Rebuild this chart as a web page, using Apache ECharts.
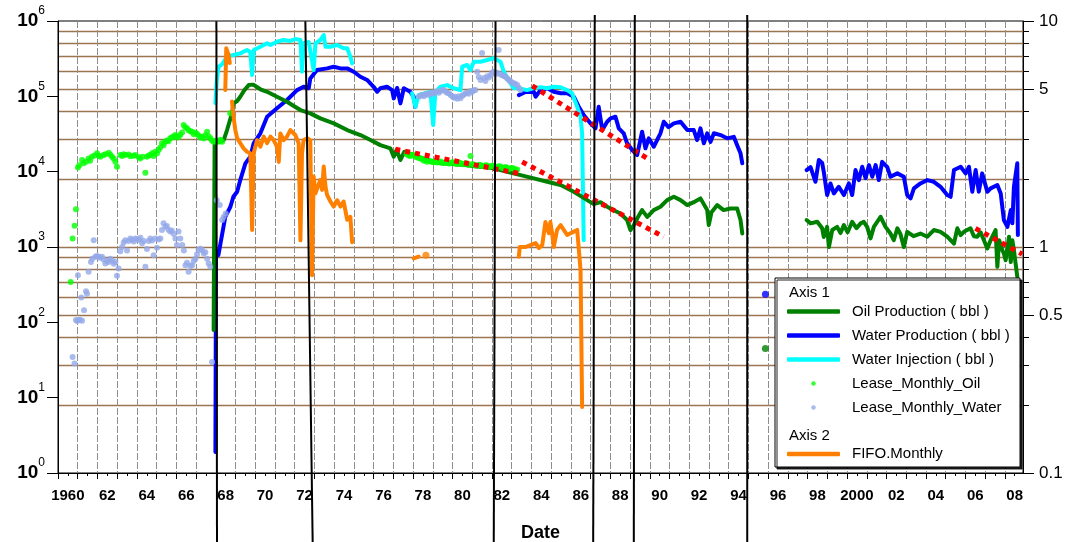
<!DOCTYPE html>
<html>
<head>
<meta charset="utf-8">
<title>Production history</title>
<script src="https://cdn.jsdelivr.net/npm/echarts@6/dist/echarts.min.js"></script>
<style>
  html, body { margin: 0; padding: 0; background: #fff; }
  #chart { width: 1074px; height: 542px; }
</style>
</head>
<body>
<div id="chart"></div>
<script>
// ---- data: [decimal year, value]; each series is a list of continuous segments ----
const oilProduction = [
  [[1967.89,79],[1967.94,24900],[1968.23,24900],[1968.40,26300],[1968.57,35700],[1968.69,45600],[1968.82,59400],[1968.90,80700],[1969.08,86700],[1969.24,98900],[1969.45,121000],[1969.67,141000],[1969.90,143000],[1970.26,124000],[1970.60,115000],[1971.10,98900],[1971.61,84800],[1971.95,74300],[1972.29,65800],[1972.79,59400],[1973.30,51000],[1973.98,43800],[1974.66,35700],[1975.33,30600],[1975.84,26300],[1976.34,22500],[1976.85,20400],[1977.02,15800],[1977.16,19400],[1977.36,14300],[1977.56,18400],[1978.03,16600],[1978.71,14300],[1979.39,12900],[1980.06,12600],[1980.74,12200],[1981.42,11600],[1982.09,11100],[1982.77,9960],[1983.45,9010],[1984.12,8150],[1984.80,7340],[1985.48,6640],[1986.15,5410],[1986.83,4190],[1987.16,3710],[1987.50,3940],[1987.84,3420],[1988.17,3080],[1988.51,2790],[1988.85,2280],[1989.02,1680],[1989.19,1950],[1989.36,2390],[1989.61,3090],[1989.87,2510],[1990.20,3090],[1990.54,3420],[1990.88,4190],[1991.22,4640],[1991.56,4190],[1991.90,3600],[1992.23,3940],[1992.57,4420],[1992.91,3090],[1992.99,1950],[1993.13,2900],[1993.42,3600],[1993.74,3090],[1994.09,3250],[1994.43,3250],[1994.60,2280],[1994.69,1510]],
  [[1995.86,45]],
  [[1997.95,2280],[1998.15,2060],[1998.49,2160],[1998.74,1770],[1998.82,1360],[1998.99,1850],[1999.08,1000],[1999.25,1680],[1999.50,1850],[1999.67,1530],[1999.84,1950],[2000.03,1570],[2000.26,2160],[2000.48,1780],[2000.69,2060],[2000.85,2160],[2001.02,1850],[2001.19,1300],[2001.36,1850],[2001.70,2520],[2001.95,1850],[2002.20,1510],[2002.37,1230],[2002.55,1770],[2002.71,1480],[2002.88,1000],[2003.05,1590],[2003.37,1390],[2003.72,1510],[2004.07,1370],[2004.40,1680],[2004.74,1590],[2005.08,1370],[2005.42,1110],[2005.59,1770],[2005.76,1440],[2005.92,1590],[2006.26,1770],[2006.43,1390],[2006.60,1370],[2006.77,1570],[2006.94,1230],[2007.11,957],[2007.28,1230],[2007.53,1680],[2007.62,545],[2007.71,1230],[2007.87,908],[2007.95,821],[2008.04,668],[2008.21,1370],[2008.30,630],[2008.38,1230],[2008.46,908],[2008.63,402]]
];

const waterProduction = [
  [[1967.98,1.9],[1968.01,908],[1968.13,780],[1968.48,2510],[1968.74,3420],[1968.89,4640],[1969.08,5410],[1969.24,7730],[1969.50,12900],[1969.75,15800],[1969.92,23800],[1970.26,32300],[1970.60,53600],[1971.10,69300],[1971.61,89300],[1972.12,121000],[1972.45,134000],[1972.71,128000],[1972.79,173000],[1973.13,223000],[1973.64,235000],[1973.98,247000],[1974.32,235000],[1974.66,235000],[1974.99,212000],[1975.33,182000],[1975.67,165000],[1976.00,134000],[1976.18,115000],[1976.34,128000],[1976.68,134000],[1976.94,121000],[1977.02,94000],[1977.19,129000],[1977.36,80700],[1977.53,128000],[1977.86,115000],[1978.03,98900],[1978.12,72800]],
  [[1983.36,104000],[1983.70,114000],[1984.12,115000],[1984.21,98900],[1984.46,121000],[1984.80,128000],[1985.13,115000],[1985.48,110000],[1985.81,110000],[1986.15,98900],[1986.40,72800],[1986.65,56400],[1986.99,43800],[1987.25,37600],[1987.41,72800],[1987.59,35700],[1987.84,46000],[1988.01,51000],[1988.26,53600],[1988.43,37600],[1988.68,32300],[1988.85,23800],[1989.11,19400],[1989.36,16600],[1989.61,33900],[1989.78,20400],[1989.95,27700],[1990.20,21400],[1990.54,32300],[1990.71,46000],[1990.95,39100],[1991.22,43800],[1991.56,46000],[1991.90,35700],[1992.23,35700],[1992.40,26300],[1992.57,37600],[1992.74,23800],[1992.91,32300],[1993.08,24900],[1993.25,32300],[1993.59,30600],[1993.92,27700],[1994.26,29000],[1994.43,22500],[1994.60,17500],[1994.69,12900]],
  [[1995.86,236]],
  [[1997.95,10500],[1998.15,11500],[1998.40,7340],[1998.57,14300],[1998.74,13000],[1998.82,9960],[1998.99,4890],[1999.16,6980],[1999.33,5140],[1999.58,6300],[1999.84,4890],[2000.09,6980],[2000.26,4890],[2000.43,10500],[2000.60,7730],[2000.77,11600],[2000.94,8220],[2001.11,12200],[2001.28,8550],[2001.45,12200],[2001.61,7730],[2001.78,13500],[2002.04,11500],[2002.20,8550],[2002.55,9490],[2002.88,8550],[2003.05,4890],[2003.22,4420],[2003.39,6000],[2003.72,6980],[2004.07,7730],[2004.40,7340],[2004.74,6300],[2005.08,4890],[2005.25,4640],[2005.42,10500],[2005.76,11600],[2006.01,9490],[2006.18,11600],[2006.35,5410],[2006.52,10500],[2006.68,5410],[2006.85,9490],[2007.11,5410],[2007.28,6000],[2007.62,6640],[2007.79,5140],[2007.95,2280],[2008.13,1850],[2008.30,3090],[2008.38,2060],[2008.46,6300],[2008.63,12900],[2008.66,1440]]
];

const waterInjection = [
  [[1967.98,81500],[1968.05,165000],[1968.14,247000],[1968.33,268000],[1968.57,336000],[1968.89,354000],[1969.24,372000],[1969.58,412000],[1969.75,388000],[1969.84,192000],[1969.92,412000],[1970.26,456000],[1970.60,506000],[1970.77,480000],[1971.10,531000],[1971.43,560000],[1971.78,543000],[1972.03,577000],[1972.29,560000],[1972.37,212000],[1972.45,506000],[1972.71,526000],[1972.96,223000],[1973.05,506000],[1973.30,560000],[1973.47,652000],[1973.56,456000],[1973.80,456000],[1974.15,480000],[1974.48,434000],[1974.66,434000],[1974.82,336000],[1974.91,274000]],
  [[1977.95,110000],[1978.12,72800],[1978.29,104000],[1978.63,110000],[1978.88,115000],[1979.02,41600],[1979.13,114000],[1979.39,134000],[1979.73,141000],[1980.06,128000],[1980.40,121000],[1980.49,247000],[1980.74,261000],[1980.91,223000],[1981.08,288000],[1981.42,288000],[1981.75,304000],[1982.09,320000],[1982.43,288000],[1982.52,247000],[1982.60,212000],[1982.83,165000],[1983.09,129000],[1983.36,128000],[1983.78,121000],[1984.12,129000],[1984.46,132000],[1984.80,128000],[1985.13,134000],[1985.48,132000],[1985.81,121000],[1986.06,110000],[1986.32,72800],[1986.49,53600],[1986.57,32300],[1986.62,4190],[1986.65,1230]]
];

const leaseMonthlyOil = [
  [1960.64,344],[1960.74,1300],[1960.84,1910],[1960.91,3160],[1961.01,11400],[1961.08,12200],[1961.22,14300],[1961.30,12900],[1961.42,13500],[1961.55,15000],[1961.63,14000],[1961.72,15800],[1961.85,16400],[1961.98,17500],[1962.07,16300],[1962.15,15800],[1962.31,16600],[1962.40,17000],[1962.57,17800],[1962.65,16800],[1962.74,15800],[1962.83,14800],[1962.91,13500],[1962.99,11600],[1963.16,16600],[1963.25,16200],[1963.33,17000],[1963.41,16600],[1963.58,16900],[1963.67,16000],[1963.83,16300],[1963.92,16600],[1964.08,15600],[1964.17,15000],[1964.29,15800],[1964.43,9660],[1964.51,15800],[1964.60,16400],[1964.68,16600],[1964.77,17500],[1964.85,16200],[1964.93,18400],[1965.02,17400],[1965.10,19400],[1965.18,21000],[1965.27,23800],[1965.35,22500],[1965.44,24900],[1965.52,26000],[1965.60,25400],[1965.69,27700],[1965.77,28500],[1965.86,29500],[1965.95,30600],[1966.03,28500],[1966.12,29000],[1966.20,31000],[1966.29,33000],[1966.37,41600],[1966.45,39000],[1966.54,37600],[1966.62,35500],[1966.71,34500],[1966.80,33900],[1966.88,31500],[1966.97,32800],[1967.05,31600],[1967.14,30000],[1967.22,28500],[1967.30,29000],[1967.39,27500],[1967.47,30500],[1967.56,33900],[1967.64,29500],[1967.72,27700],[1967.80,26000],[1967.89,24900],[1967.97,25500],[1968.06,25800],[1968.14,24900],[1968.23,26500],[1968.32,24900],[1968.73,59400],
  [1977.68,17000],[1977.77,16400],[1977.85,16200],[1977.94,16800],[1978.03,16600],[1978.12,15800],[1978.20,15500],[1978.29,15200],[1978.37,15000],[1978.46,14600],[1978.55,14000],[1978.63,14200],[1978.71,13500],[1978.80,13900],[1978.90,13800],[1978.97,13400],[1979.05,13300],[1979.14,13700],[1979.22,13200],[1979.31,13500],[1979.39,13600],[1979.48,13100],[1979.56,13000],[1979.65,13400],[1979.73,13300],[1979.82,12800],[1979.90,12900],[1979.98,13300],[1980.06,13200],[1980.15,12700],[1980.23,12600],[1980.32,13100],[1980.40,13000],[1980.49,12600],[1980.57,12500],[1980.66,12900],[1980.74,12800],[1980.83,12300],[1980.91,16100],[1981.00,12600],[1981.08,12400],[1981.17,12000],[1981.25,12000],[1981.34,12400],[1981.42,12300],[1981.51,11900],[1981.59,11800],[1981.68,12200],[1981.76,12100],[1981.85,11600],[1981.93,11700],[1982.01,12000],[1982.09,11900],[1982.18,11400],[1982.26,11500],[1982.35,11800],[1982.43,11700],[1982.52,11200],[1982.60,11200],[1982.69,11500],[1982.77,11300],[1982.86,10900],[1982.94,11000],[1983.02,11200],[1983.10,11000],[1983.19,10600],[1983.28,10700]
];

const leaseMonthlyWater = [
  [1960.74,34.7],[1960.84,28.4],[1960.91,107],[1960.97,104],[1961.01,423],[1961.04,107],[1961.12,108],[1961.18,214],[1961.22,105],[1961.32,145],[1961.42,259],[1961.47,240],[1961.55,468],[1961.67,632],[1961.74,700],[1961.81,1230],[1961.89,741],[1961.97,760],[1962.06,741],[1962.14,720],[1962.23,741],[1962.31,680],[1962.40,603],[1962.48,650],[1962.57,632],[1962.65,700],[1962.74,660],[1962.83,600],[1962.91,632],[1962.99,414],[1963.07,520],[1963.16,880],[1963.25,1000],[1963.33,1150],[1963.41,1230],[1963.50,900],[1963.58,1200],[1963.67,1300],[1963.75,1250],[1963.84,1180],[1963.92,1300],[1964.01,1260],[1964.10,1250],[1964.18,1330],[1964.26,1120],[1964.35,1200],[1964.43,545],[1964.51,940],[1964.60,1200],[1964.68,1300],[1964.77,1220],[1964.85,780],[1964.93,1300],[1965.02,980],[1965.10,1260],[1965.19,1300],[1965.27,1680],[1965.35,2060],[1965.44,1850],[1965.52,1900],[1965.60,1700],[1965.69,1600],[1965.77,1650],[1965.86,1500],[1965.95,1300],[1966.03,1060],[1966.11,1600],[1966.20,1300],[1966.30,1060],[1966.38,900],[1966.46,573],[1966.54,620],[1966.62,468],[1966.71,560],[1966.80,573],[1966.88,650],[1966.97,700],[1967.05,800],[1967.13,910],[1967.22,950],[1967.30,910],[1967.39,820],[1967.47,850],[1967.56,700],[1967.64,603],[1967.72,545],[1967.81,29.8],[1968.05,4190],[1968.20,3600],[1968.32,2280],[1968.40,2510],[1968.50,2790],
  [1978.29,98800],[1978.37,102000],[1978.46,104000],[1978.55,100000],[1978.63,106000],[1978.71,108000],[1978.80,104000],[1978.88,110000],[1978.97,112000],[1979.05,108000],[1979.14,114000],[1979.22,116000],[1979.31,112000],[1979.39,118000],[1979.48,121000],[1979.56,121000],[1979.65,115000],[1979.73,112000],[1979.82,110000],[1979.90,104000],[1979.99,100000],[1980.07,96000],[1980.15,98800],[1980.24,93000],[1980.32,100000],[1980.40,94000],[1980.49,102000],[1980.57,105000],[1980.66,110000],[1980.74,112000],[1980.83,108000],[1980.91,118000],[1981.00,115000],[1981.08,120000],[1981.16,121000],[1981.25,212000],[1981.33,180000],[1981.42,165000],[1981.50,376000],[1981.59,175000],[1981.67,160000],[1981.76,185000],[1981.84,178000],[1981.93,192000],[1982.01,205000],[1982.09,212000],[1982.18,198000],[1982.26,205000],[1982.34,412000],[1982.43,195000],[1982.52,192000],[1982.60,186000],[1982.69,182000],[1982.77,173000],[1982.86,165000],[1982.94,158000],[1983.02,152000],[1983.11,149000],[1983.19,146000],[1983.28,141000],[1983.36,130000],[1983.45,121000]
];

const fifoMonthly = [
  [[1968.48,4.95],[1968.53,7.57],[1968.65,7.07],[1968.71,6.52]],
  [[1968.82,4.4],[1968.90,3.77],[1968.99,3.29],[1969.08,3.03],[1969.24,2.88],[1969.41,2.73],[1969.58,2.64],[1969.75,2.6],[1969.84,1.19],[1969.92,2.6],[1970.09,2.97],[1970.26,2.78],[1970.43,3.08],[1970.60,2.88],[1970.77,3.08],[1970.93,2.97],[1971.10,2.78],[1971.19,2.38],[1971.27,3.18],[1971.44,2.97],[1971.61,3.08],[1971.78,3.29],[1971.87,3.35],[1972.03,3.13],[1972.20,2.88],[1972.29,1.07],[1972.37,2.6],[1972.45,2.97],[1972.63,3.03],[1972.79,2.97],[1972.88,0.75],[1972.96,2.05],[1973.05,1.73],[1973.13,1.76],[1973.30,1.98],[1973.39,1.79],[1973.47,2.27],[1973.56,1.85],[1973.64,1.70],[1973.81,1.59],[1973.98,1.51],[1974.15,1.61],[1974.32,1.51],[1974.48,1.59],[1974.66,1.32],[1974.82,1.36],[1974.91,1.05]],
  [[1978.03,0.89],[1978.29,0.906]],
  [[1978.65,0.92]],
  [[1983.36,0.906],[1983.41,1.0],[1983.70,1.0],[1983.95,1.02],[1984.21,1.04],[1984.38,0.99],[1984.55,1.02],[1984.63,1.15],[1984.71,1.29],[1984.80,1.27],[1984.88,1.15],[1984.96,1.29],[1985.05,1.15],[1985.13,1.0],[1985.30,1.19],[1985.48,1.25],[1985.64,1.19],[1985.81,1.13],[1985.98,1.15],[1986.15,1.17],[1986.32,1.19],[1986.40,1.19],[1986.49,0.79],[1986.57,0.196]]
];

// fitted decline trends (start, end)
const trendOilEarly = [[1977.10,19800],[1983.53,9290]];
const trendOilLate = [[1983.53,13500],[1990.71,1365]];
const trendWater = [[1984.04,138000],[1990.00,14250]];
const trendRecent = [[2006.51,1765],[2008.88,804]];

// operational events: date where the marker leaves the top, date where it reaches the bottom
const eventLines = [[1968.03,1968.06],[1972.54,1972.91],[1982.18,1982.09],[1987.21,1987.13],[1989.24,1989.19],[1994.94,1994.94]];

// axis labels
const yearTickLabels = ['1960','62','64','66','68','70','72','74','76','78','80','82','84','86','88','90','92','94','96','98','2000','02','04','06','08'];
const leftExponents = [0,1,2,3,4,5,6];
const rightTickLabels = [0.1,0.5,1,5,10];

// ---- chart ----
const FONT = '"Liberation Sans", Arial, Helvetica, sans-serif';
const C = {
  oil: '#008000', water: '#0000ff', inj: '#00ffff',
  leaseOil: '#00ff00', leaseWater: '#94a9e8', fifo: '#ff8000',
  trend: '#ff0000', grid: '#9c7450', vgrid: '#8e8e8e'
};

function joinSegments(segs) {
  const out = [];
  segs.forEach(s => {
    if (s.length < 2) return;
    if (out.length) out.push([s[0][0], null]);
    s.forEach(p => out.push(p));
  });
  return out;
}
function singles(segs) {
  return segs.filter(s => s.length === 1).map(s => s[0]);
}
function lineWithDots(name, segs, color, yAxisIndex, z) {
  return [{
    name, type: 'line', yAxisIndex, data: joinSegments(segs),
    symbol: 'none', showSymbol: false, connectNulls: false, z,
    lineStyle: { color, width: 4, join: 'round', cap: 'round' },
    itemStyle: { color }, animation: false, silent: true
  }, {
    name, type: 'scatter', yAxisIndex, data: singles(segs), z,
    symbolSize: 7, itemStyle: { color }, animation: false, silent: true
  }];
}
function trend(data) {
  return {
    type: 'line', yAxisIndex: 0, data, symbol: 'none', z: 8, animation: false, silent: true,
    lineStyle: { color: C.trend, width: 5, type: [5, 5], cap: 'butt' }
  };
}

const xMin = 1960, xMax = 2008.92;
const labelPositions = yearTickLabels.map((_, i) => 1960.5 + 2 * i);
const yearTicks = [];
for (let y = 1960; y <= 2008; y++) yearTicks.push(y);
const leftTicks = leftExponents.map(e => Math.pow(10, e));
const rightMinor = [];
for (let k = 2; k <= 9; k++) rightMinor.push(k / 10);
rightMinor.push(1);
for (let k = 2; k <= 9; k++) rightMinor.push(k);

const series = [
  ...lineWithDots('Water Production ( bbl )', waterProduction, C.water, 0, 2),
  ...lineWithDots('Water Injection ( bbl )', waterInjection, C.inj, 0, 3),
  ...lineWithDots('Oil Production ( bbl )', oilProduction, C.oil, 0, 4),
  { name: 'Lease_Monthly_Water', type: 'scatter', yAxisIndex: 0, data: leaseMonthlyWater, symbolSize: 6,
    itemStyle: { color: C.leaseWater }, z: 5, animation: false, silent: true },
  { name: 'Lease_Monthly_Oil', type: 'scatter', yAxisIndex: 0, data: leaseMonthlyOil, symbolSize: 6,
    itemStyle: { color: C.leaseOil }, z: 6, animation: false, silent: true },
  ...lineWithDots('FIFO.Monthly', fifoMonthly, C.fifo, 1, 7),
  trend(trendOilEarly), trend(trendOilLate), trend(trendWater), trend(trendRecent),
  ...eventLines.map((ev, i) => ({
    type: 'line', xAxisIndex: 1, yAxisIndex: 3, symbol: 'none', z: 9, animation: false, silent: true,
    clip: false,
    data: [[ev[0], i < 3 ? 0.988 : 1], [ev[1], 0]],
    lineStyle: { color: '#000', width: 2 }
  }))
];

const legendText = { fontSize: 15, fontFamily: FONT, color: '#000', padding: [0, 0, 0, 7] };

const option = {
  backgroundColor: '#fff',
  animation: false,
  textStyle: { fontFamily: FONT },
  grid: [
    { left: 58, right: 51, top: 21, bottom: 69, show: true, borderColor: '#000', borderWidth: 1,
      backgroundColor: 'transparent', containLabel: false, outerBoundsMode: 'none' },
    { left: 58, right: 51, top: 15, bottom: 0, show: false, containLabel: false, outerBoundsMode: 'none' }
  ],
  xAxis: [{
    type: 'value', gridIndex: 0, min: xMin, max: xMax, interval: 1,
    axisLine: { show: true, onZero: false, lineStyle: { color: '#000', width: 1 } },
    axisTick: { show: true, length: 6, customValues: yearTicks, lineStyle: { color: '#000' } },
    minorTick: { show: true, splitNumber: 2, length: 3, lineStyle: { color: '#000' } },
    axisLabel: {
      customValues: labelPositions, margin: 15, fontSize: 15, fontWeight: 'bold', color: '#000', fontFamily: FONT,
      formatter: v => yearTickLabels[Math.round((v - 1960.5) / 2)]
    },
    splitLine: { show: true, lineStyle: { color: C.vgrid, width: 1, type: [7, 2] } },
    name: 'Date', nameLocation: 'middle', nameGap: 51,
    nameTextStyle: { fontSize: 18, fontWeight: 'bold', color: '#000', fontFamily: FONT }
  }, {
    type: 'value', gridIndex: 1, min: xMin, max: xMax, show: false
  }],
  yAxis: [{
    type: 'log', logBase: 10, gridIndex: 0, position: 'left', min: 1, max: 1e6,
    axisLine: { show: true, lineStyle: { color: '#000', width: 1 } },
    axisTick: { show: true, length: 11, customValues: leftTicks, lineStyle: { color: '#000' } },
    axisLabel: {
      customValues: leftTicks, margin: 13,
      formatter: v => '{b|10}{s|' + Math.round(Math.log10(v)) + '}',
      rich: {
        b: { fontSize: 19, fontWeight: 'bold', color: '#000', fontFamily: FONT, lineHeight: 32, verticalAlign: 'middle' },
        s: { fontSize: 12, color: '#000', fontFamily: FONT, lineHeight: 14, verticalAlign: 'top' }
      }
    },
    splitLine: { show: false }
  }, {
    type: 'log', logBase: 10, gridIndex: 0, position: 'right', min: 0.1, max: 10,
    axisLine: { show: true, lineStyle: { color: '#000', width: 1 } },
    axisTick: { show: true, length: 11, customValues: rightTickLabels, lineStyle: { color: '#000' } },
    axisLabel: {
      customValues: rightTickLabels, margin: 16, fontSize: 17, color: '#000', fontFamily: FONT,
      formatter: v => String(Number(v.toPrecision(3)))
    },
    splitLine: { show: false }
  }, {
    type: 'log', logBase: 10, gridIndex: 0, position: 'right', min: 0.1, max: 10,
    axisLine: { show: false },
    axisTick: { show: true, length: 6, customValues: rightMinor, lineStyle: { color: '#000' } },
    axisLabel: { show: false },
    splitLine: { show: true, lineStyle: { color: C.grid, width: 1.3 } }
  }, {
    type: 'value', gridIndex: 1, min: 0, max: 1, show: false
  }],
  legend: [{
    orient: 'vertical', left: 787, top: 304, padding: 0, itemGap: 9,
    itemWidth: 53, itemHeight: 4.5, selectedMode: false, z: 20,
    textStyle: legendText,
    data: [
      { name: 'Oil Production ( bbl )', icon: 'roundRect' },
      { name: 'Water Production ( bbl )', icon: 'roundRect' },
      { name: 'Water Injection ( bbl )', icon: 'roundRect' },
      { name: 'Lease_Monthly_Oil', icon: 'circle' },
      { name: 'Lease_Monthly_Water', icon: 'circle' }
    ]
  }, {
    orient: 'vertical', left: 787, top: 446.5, padding: 0,
    itemWidth: 53, itemHeight: 4.5, selectedMode: false, z: 20,
    textStyle: legendText,
    data: [{ name: 'FIFO.Monthly', icon: 'roundRect' }]
  }],
  graphic: [{
    type: 'rect', z: 15, silent: true,
    shape: { x: 775, y: 278, width: 245, height: 189 },
    style: { fill: '#fff', stroke: '#000', lineWidth: 1, shadowColor: 'rgba(0,0,0,0.85)', shadowOffsetX: 2, shadowOffsetY: 2, shadowBlur: 0 }
  }, {
    type: 'text', z: 16, silent: true, left: 789, top: 285,
    style: { text: 'Axis 1', fontSize: 15, fontFamily: FONT, fill: '#000' }
  }, {
    type: 'text', z: 16, silent: true, left: 789, top: 428,
    style: { text: 'Axis 2', fontSize: 15, fontFamily: FONT, fill: '#000' }
  }],
  series
};

const chart = echarts.init(document.getElementById('chart'), null, { renderer: 'canvas' });
chart.setOption(option);
</script>
</body>
</html>
